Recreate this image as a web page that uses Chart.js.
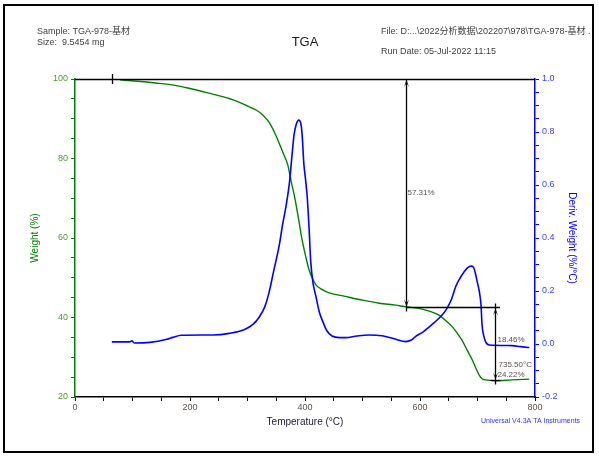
<!DOCTYPE html>
<html><head><meta charset="utf-8">
<script src="https://cdn.jsdelivr.net/npm/chart.js@4"></script>
<style>html,body{margin:0;padding:0;background:#fff}canvas{display:block}</style>
</head><body>
<canvas id="c" width="599" height="456"></canvas>
<script>
// ---- data ----
const weightTemp = [78,104,140,174,200,231,268,285,303,315,327,338,349,361,370,376,382,388,395,401,407,413,419,430,442,470,499,529,558,575,598,616,633,645,656,665,673,682,691,697,703,708,714,731,760,790];
const weightPct  = [99.8,99.5,99.0,98.4,97.6,96.5,95.1,94.2,93.0,92.2,90.9,89.0,85.9,81.7,78.4,74.2,70.3,65.5,59.5,55.5,52.0,49.8,48.2,47.0,46.2,45.3,44.4,43.6,43.1,42.7,42.3,41.6,40.6,39.2,37.7,36.0,34.3,31.8,29.3,27.3,25.5,24.6,24.3,24.1,24.3,24.5];
const derivTemp = [64,95,99,103,130,160,170,185,240,268,295,310,320,330,337,345,355,361,367,373,378,381,385,389,393,395,398,401,404,407,410,414,419,425,430,438,447,460,471,490,511,534,555,575,585,592,605,616,633,645,655,662,670,676,683,689,693,696,699,703,706,708,711,714,720,760,775,790];
const derivVal  = [0.008,0.008,0.012,0.004,0.006,0.018,0.025,0.033,0.034,0.04,0.055,0.075,0.10,0.14,0.19,0.27,0.37,0.45,0.52,0.61,0.726,0.79,0.83,0.845,0.83,0.79,0.68,0.62,0.55,0.44,0.31,0.23,0.18,0.12,0.09,0.05,0.03,0.024,0.024,0.03,0.034,0.031,0.02,0.009,0.015,0.028,0.045,0.065,0.097,0.128,0.17,0.216,0.25,0.27,0.288,0.294,0.29,0.27,0.24,0.20,0.15,0.07,0.03,0.009,-0.004,-0.006,-0.01,-0.013];
const tempTickLabels = [0,200,400,600,800];
const weightTickLabels = [20,40,60,80,100];
const derivTickLabels = [-0.2,0,0.2,0.4,0.6,0.8,1.0];
// step analysis annotations
const stepStartTemp = 64;
const step1Temp = 576, step1From = 100, step1To = 42.69, step1Text = '57.31%';
const step2Temp = 731, step2From = 42.69, step2To = 24.22, step2EndTemp = 739;
const step2Texts = ['18.46%', '735.50°C', '24.22%'];

const FONT = '"Liberation Sans", Arial, "Noto Sans CJK SC", sans-serif';

function arrowHead(ctx, x, y, dir) {
  ctx.beginPath();
  ctx.moveTo(x - 2.5, y - dir * 7);
  ctx.lineTo(x, y);
  ctx.lineTo(x + 2.5, y - dir * 7);
  ctx.lineTo(x, y - dir * 3);
  ctx.closePath();
  ctx.fill();
}

const decor = {
  id: 'decor',
  afterDraw(chart) {
    const ctx = chart.ctx;
    const ca = chart.chartArea;
    const sx = chart.scales.x, sy = chart.scales.y;
    ctx.save();
    // outer frame
    ctx.strokeStyle = '#000'; ctx.lineWidth = 2;
    ctx.strokeRect(4, 5, 589, 447);
    // top line at 100%
    ctx.lineWidth = 1.3;
    ctx.beginPath(); ctx.moveTo(ca.left, Math.round(ca.top) + 0.5); ctx.lineTo(ca.right, Math.round(ca.top) + 0.5); ctx.stroke();
    // header texts
    ctx.fillStyle = '#404040';
    ctx.textBaseline = 'middle'; ctx.textAlign = 'left';
    ctx.font = '9px ' + FONT;
    ctx.fillText('Sample: TGA-978-基材', 37, 32);
    ctx.fillText('Size:  9.5454 mg', 37, 43);
    ctx.fillText('File: D:...\\2022分析数据\\202207\\978\\TGA-978-基材 .', 381, 32);
    ctx.fillText('Run Date: 05-Jul-2022 11:15', 381, 52);
    ctx.fillStyle = '#202020';
    ctx.font = '13px ' + FONT; ctx.textAlign = 'center';
    ctx.fillText('TGA', 305, 42);
    ctx.fillStyle = '#3030ff';
    ctx.font = '7px ' + FONT; ctx.textAlign = 'left';
    ctx.fillText('Universal V4.3A TA Instruments', 481, 421);

    // annotations
    ctx.strokeStyle = '#000'; ctx.fillStyle = '#000'; ctx.lineWidth = 1.3;
    const xs = Math.round(sx.getPixelForValue(stepStartTemp)) + 0.5;
    ctx.beginPath(); ctx.moveTo(xs, ca.top - 5); ctx.lineTo(xs, ca.top + 5); ctx.stroke();
    const x1 = Math.round(sx.getPixelForValue(step1Temp)) + 0.5;
    const y1a = sy.getPixelForValue(step1From), y1b = Math.round(sy.getPixelForValue(step1To)) + 0.5;
    ctx.beginPath(); ctx.moveTo(x1, y1a); ctx.lineTo(x1, y1b + 4); ctx.stroke();
    arrowHead(ctx, x1, y1a + 1, -1);
    arrowHead(ctx, x1, y1b - 1, 1);
    const x2 = Math.round(sx.getPixelForValue(step2Temp)) + 0.5;
    const x2e = sx.getPixelForValue(step2EndTemp);
    ctx.beginPath(); ctx.moveTo(x1, y1b); ctx.lineTo(x2e, y1b); ctx.stroke();
    const y2b = Math.round(sy.getPixelForValue(step2To)) + 0.5;
    ctx.beginPath(); ctx.moveTo(x2, y1b - 4); ctx.lineTo(x2, y2b + 4); ctx.stroke();
    arrowHead(ctx, x2, y1b + 1, -1);
    arrowHead(ctx, x2, y2b - 1, 1);
    ctx.beginPath(); ctx.moveTo(x2 - 5, y2b); ctx.lineTo(x2 + 5, y2b); ctx.stroke();

    ctx.fillStyle = '#5a5048';
    ctx.font = '8px ' + FONT; ctx.textAlign = 'left';
    ctx.fillText(step1Text, x1 + 1, (y1a + y1b) / 2);
    ctx.fillText(step2Texts[0], x2 + 2, 340);
    ctx.fillText(step2Texts[1], x2 + 3, 365);
    ctx.fillText(step2Texts[2], x2 + 2, 375);
    ctx.restore();
  }
};

const weightData = weightTemp.map((t, i) => ({x: t, y: weightPct[i]}));
const derivData = derivTemp.map((t, i) => ({x: t, y: derivVal[i]}));

new Chart(document.getElementById('c'), {
  type: 'line',
  data: {
    datasets: [
      {label: 'Deriv. Weight', data: derivData, yAxisID: 'y2', borderColor: '#0000ff', borderWidth: 1.6, pointRadius: 0, cubicInterpolationMode: 'monotone', fill: false},
      {label: 'Weight', data: weightData, yAxisID: 'y', borderColor: '#008000', borderWidth: 1.4, pointRadius: 0, cubicInterpolationMode: 'monotone', fill: false}
    ]
  },
  options: {
    responsive: false, animation: false, devicePixelRatio: 1,
    layout: {padding: {top: 79, left: 0, right: 0, bottom: 0}},
    plugins: {legend: {display: false}, tooltip: {enabled: false}},
    scales: {
      x: {
        type: 'linear', min: 0, max: 800,
        afterFit(s) { s.height = 59; },
        border: {color: '#000', width: 1.5},
        grid: {drawOnChartArea: false, drawTicks: true, tickLength: 4, color: '#000'},
        ticks: {stepSize: 50, autoSkip: false, maxRotation: 0, padding: 1, color: '#5a5048', font: {family: FONT, size: 9},
          callback: v => tempTickLabels.includes(v) ? String(v) : ''},
        title: {display: true, text: 'Temperature (°C)', color: '#1a1a30', font: {family: FONT, size: 10}, padding: {top: 0, bottom: 28}}
      },
      y: {
        type: 'linear', position: 'left', min: 20, max: 100,
        afterFit(s) { s.width = 75; },
        border: {color: '#008000', width: 1.5},
        grid: {drawOnChartArea: false, drawTicks: true, tickLength: 4, color: '#008000'},
        ticks: {stepSize: 5, autoSkip: false, padding: 3, color: '#4c9a2a', font: {family: FONT, size: 9},
          callback: v => weightTickLabels.includes(v) ? String(v) : ''},
        title: {display: true, text: 'Weight (%)', color: '#008000', font: {family: FONT, size: 10}, padding: {top: 29, bottom: 0}}
      },
      y2: {
        type: 'linear', position: 'right', min: -0.2, max: 1.0,
        afterFit(s) { s.width = 64; },
        border: {color: '#0000ff', width: 1.5},
        grid: {drawOnChartArea: false, drawTicks: true, tickLength: 4, color: '#0000ff'},
        ticks: {stepSize: 0.05, autoSkip: false, padding: 3, color: '#4040ff', font: {family: FONT, size: 9},
          callback: v => derivTickLabels.some(t => Math.abs(t - v) < 1e-6) ? (Math.abs(v) < 1e-6 ? '0.0' : v.toFixed(1)) : ''},
        title: {display: true, text: 'Deriv. Weight (%/°C)', color: '#0000ff', font: {family: FONT, size: 10}, padding: {top: 21, bottom: 0}}
      }
    }
  },
  plugins: [decor]
});
</script>
</body></html>
